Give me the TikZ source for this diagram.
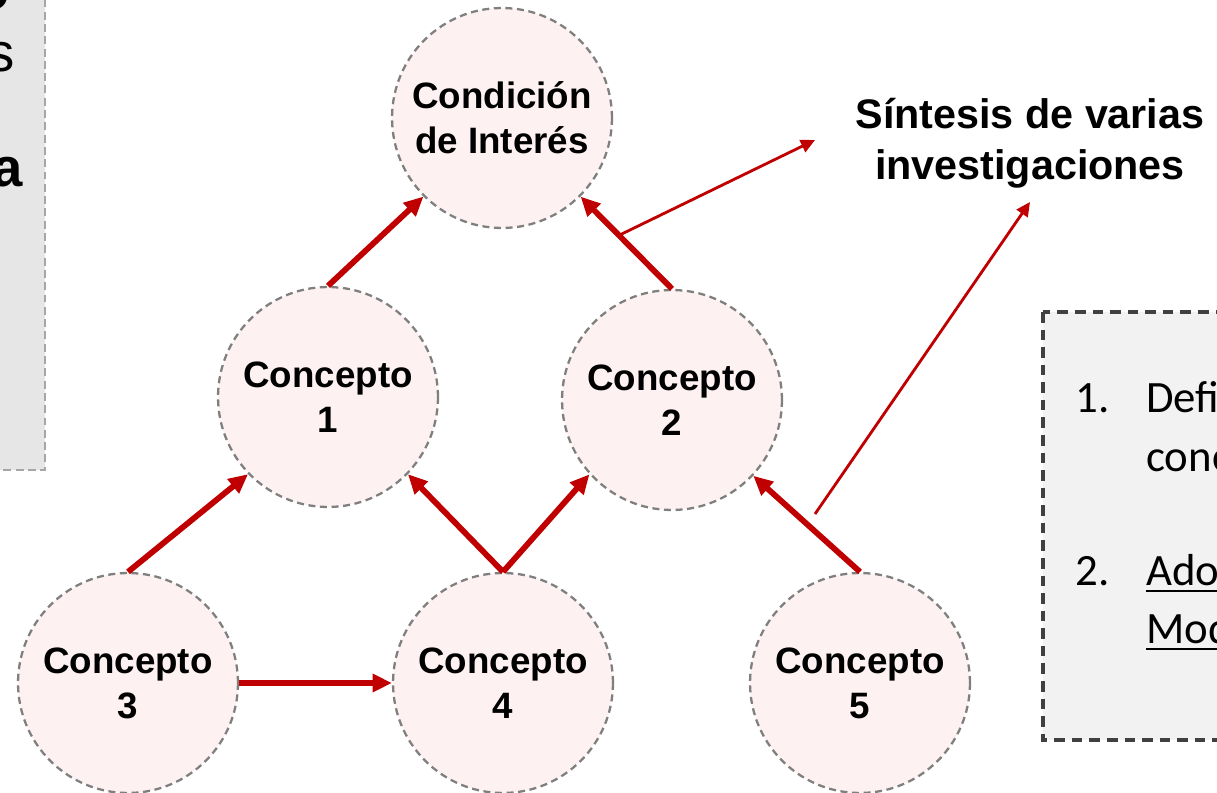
\documentclass[tikz,border=0pt]{standalone}
\usepackage{fontspec}
\setmainfont{Liberation Sans}
\newfontfamily\listafont{Carlito}
\usetikzlibrary{arrows.meta,calc}

\definecolor{flecha}{HTML}{C00000}
\definecolor{rosa}{HTML}{FDF1F1}
\definecolor{borde}{HTML}{7F7F7F}
\definecolor{cajagris}{HTML}{F2F2F2}
\definecolor{cajaborde}{HTML}{404040}
\definecolor{ladogris}{HTML}{E7E6E6}
\definecolor{ladoborde}{HTML}{A6A6A6}

\newcommand{\subr}[1]{\setbox0\hbox{#1}\rlap{\rule[-4pt]{\wd0}{1.1pt}}\box0}

\begin{document}
\begin{tikzpicture}[x=0.02cm,y=-0.02cm,
    concepto/.style={circle,draw=borde,line width=1.3pt,dash pattern=on 4pt off 2.6pt,fill=rosa,
        minimum size=4.4cm,inner sep=0pt,align=center,font=\bfseries\fontsize{20.9}{25.5}\selectfont},
    gruesa/.style={-{Triangle[length=11pt,width=10pt]},line width=3.3pt,draw=flecha},
    fina/.style={-{Triangle[length=8pt,width=7.5pt]},line width=1.6pt,draw=flecha},
    lista/.style={anchor=base west,inner sep=0pt,font=\listafont\fontsize{25.5}{33.5}\selectfont},
    lado/.style={anchor=base east,inner sep=0pt,font=\fontsize{31}{37}\selectfont}]
    \useasboundingbox(0,0)rectangle(1217,793);

    \draw[ladoborde,fill=ladogris,line width=1.2pt,dash pattern=on 4.5pt off 2.5pt](-40,-40)rectangle(45,470);
    \node[lado,font=\bfseries\fontsize{31}{37}\selectfont](t0)at(10,10){o};
    \node[lado](t1)at(15,72){s};
    \node[lado,font=\bfseries\fontsize{31}{37}\selectfont](t2)at(23,187){a};

    \draw[cajaborde,fill=cajagris,line width=2pt,dash pattern=on 6pt off 4pt](1043,312)rectangle(1260,740);
    \node[lista](n1)at(1075,413){1.};
    \node[lista](d1)at(1146,413){Definir};
    \node[lista](d2)at(1146,472){conceptos};
    \node[lista](n2)at(1075,585){2.};
    \node[lista](a1)at(1146,585){\subr{Adoptar}};
    \node[lista](a2)at(1146,643){\subr{Modelo}};

    \node[concepto](cond)at(502,118){Condición\\de Interés};
    \node[concepto](c1)at(328,397){Concepto\\1};
    \node[concepto](c2)at(672,400){Concepto\\2};
    \node[concepto](c3)at(128,683){Concepto\\3};
    \node[concepto](c4)at(503,683){Concepto\\4};
    \node[concepto](c5)at(860,683){Concepto\\5};

    \node[font=\bfseries\fontsize{23.5}{29}\selectfont,align=center](sintesis)at(1030,143){Síntesis de varias\\investigaciones};
    \coordinate(s1)at(815,140);
    \coordinate(s2a)at(815,514);
    \coordinate(s2b)at(1030,202);

    \draw[gruesa](c3.north)--(c1.224);
    \draw[gruesa](c4.north)--(c1.316);
    \draw[gruesa](c4.north)--(c2.222);
    \draw[gruesa](c5.north)--(c2.317);
    \draw[gruesa](c1.north)--(cond.225);
    \draw[gruesa](c2.north)--(cond.315);
    \draw[gruesa](c3.east)--(c4.west);
    \draw[fina]($(c2.north)!0.58!(cond.315)$)--(s1);
    \draw[fina](s2a)--(s2b);
\end{tikzpicture}
\end{document}
